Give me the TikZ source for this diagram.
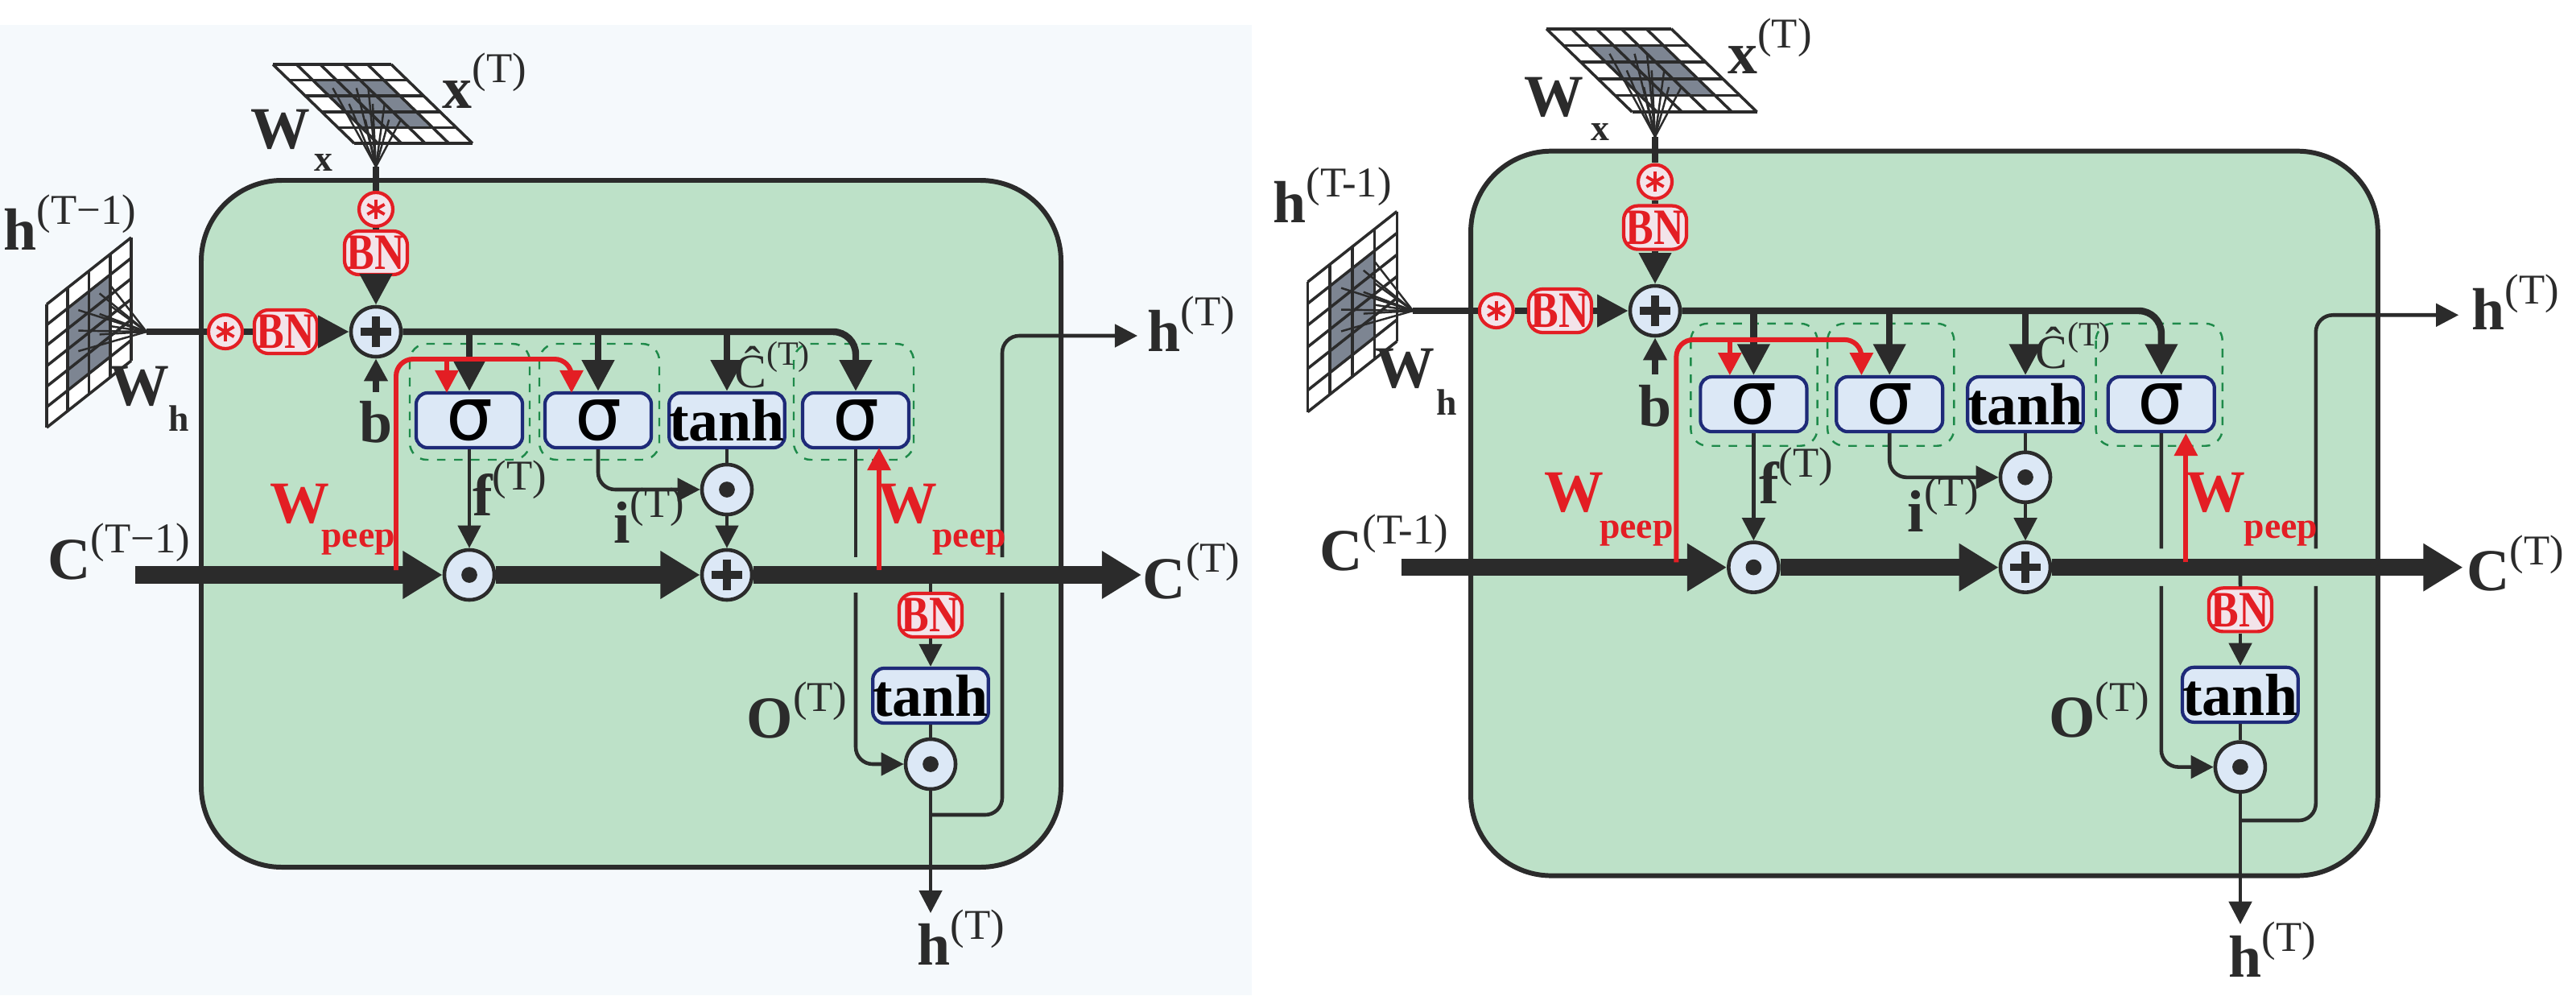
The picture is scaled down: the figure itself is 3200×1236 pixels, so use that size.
\documentclass[tikz,border=0pt]{standalone}
\usepackage{fontspec}
\setmainfont{Liberation Serif}
\newfontfamily\sigf{DejaVu Sans}
\usetikzlibrary{arrows.meta,calc}
\definecolor{cellg}{HTML}{BDE1C8}
\definecolor{dk}{HTML}{2B2B2B}
\definecolor{gatef}{HTML}{DCE8F6}
\definecolor{gateb}{HTML}{1E2A78}
\definecolor{redA}{HTML}{E31E24}
\definecolor{bnf}{HTML}{F3E4EA}
\definecolor{dgreen}{HTML}{1E8A4A}
\definecolor{gridg}{HTML}{7D8592}
\definecolor{panelbg}{HTML}{F5F9FC}
\newcommand\lb[2]{{\bfseries #1}\raisebox{0.95ex}{\fontsize{15}{15}\selectfont\mdseries #2}}
\newcommand\bigf{\fontsize{21}{22}\selectfont}
\newcommand\sg{{\sigf\mdseries\fontsize{26}{26}\selectfont σ}}
\newcommand\mgrid[9]{%
  \fill[white] (#1,#2) -- ++(#3,#4) -- ++(#5,#6) -- ++({-(#3)},{-(#4)}) -- cycle;
  \fill[gridg] ({#1+(#3)/#7+(#5)/#8},{#2+(#4)/#7+(#6)/#8}) -- ++({(#3)*(#7-2)/#7},{(#4)*(#7-2)/#7}) -- ++({(#5)*(#8-2)/#8},{(#6)*(#8-2)/#8}) -- ++({-(#3)*(#7-2)/#7},{-(#4)*(#7-2)/#7}) -- cycle;
  \foreach \i in {0,...,#7} \draw[dk,line width=1pt] ({#1+\i/#7*(#3)},{#2+\i/#7*(#4)}) -- ++(#5,#6);
  \foreach \j in {0,...,#8} \draw[dk,line width=1pt] ({#1+\j/#8*(#5)},{#2+\j/#8*(#6)}) -- ++(#3,#4);
  \foreach \i in {1.5,2.5,3} \foreach \j in {1.5,2.5,3.5}
    \draw[dk,line width=0.7pt] ({#1+\i/#7*(#3)+\j/#8*(#5)},{#2+\i/#7*(#4)+\j/#8*(#6)}) -- (#9);
}
\tikzset{
  gate/.style={draw=gateb, fill=gatef, line width=1.2pt, rounded corners=4pt, minimum width=1.32cm, minimum height=0.68cm, inner sep=0pt, font=\bigf\bfseries},
  bn/.style={draw=redA, fill=bnf, line width=1.2pt, rounded corners=5pt, text=redA, font=\fontsize{18}{18}\selectfont\bfseries, minimum width=0.78cm, minimum height=0.54cm, inner sep=0.5pt},
  opc/.style={circle, draw=dk, fill=gatef, line width=1.3pt, minimum size=0.62cm, inner sep=0pt},
  plussym/.style={opc, path picture={\draw[dk,line width=2.6pt] ([xshift=-5.5pt]path picture bounding box.center) -- ([xshift=5.5pt]path picture bounding box.center); \draw[dk,line width=2.6pt] ([yshift=-5.5pt]path picture bounding box.center) -- ([yshift=5.5pt]path picture bounding box.center);}},
  dotsym/.style={opc, path picture={\fill[dk] (path picture bounding box.center) circle (2.8pt);}},
  star/.style={circle, draw=redA, fill=bnf, line width=1.2pt, minimum size=0.42cm, inner sep=0pt, path picture={\foreach \a in {90,30,150} \draw[redA,line width=1.1pt] ([shift={(\a:3.5pt)}]path picture bounding box.center) -- ([shift={(\a+180:3.5pt)}]path picture bounding box.center);}},
  dsh/.style={draw=dgreen, dashed, line width=0.7pt, rounded corners=6pt},
  thin/.style={draw=dk, line width=1.3pt},
  tip/.style={-{Triangle[length=8pt,width=8pt]}},
  trunk/.style={draw=dk, line width=2.4pt},
  btip/.style={-{Triangle[length=11pt,width=11pt]}},
  cell/.style={draw=dk, line width=6pt, -{Triangle[length=14pt,width=16pt]}},
  rline/.style={draw=redA, line width=1.7pt},
  rtip/.style={-{Triangle[length=8pt,width=8pt]}},
  lab/.style={font=\bigf, text=dk, inner sep=0pt},
}
\newcommand\BN{\scalebox{0.82}[1]{BN}}
\newcommand\lstmcell[1]{%
  \draw[line width=1.7pt, draw=dk, fill=cellg, rounded corners=1cm] (-217,-188) rectangle (851,665);
  \draw[dsh] (42,15) rectangle (191,159);
  \draw[dsh] (203,15) rectangle (352,159);
  \draw[dsh] (519,15) rectangle (668,159);
  \coordinate (xconv) at (0,-205);
  \coordinate (hconv) at (-285,0);
  \mgrid{-128}{-332}{147}{0}{101}{98}{5}{5}{xconv}
  \mgrid{-409}{-34}{105}{-83}{0}{153}{4}{6}{hconv}
  \node[plussym] (plus) at (0,0) {};
  \node[bn] (bnx) at (0,-98) {\BN};
  \node[star] (stx) at (0,-152) {};
  \node[star] (sth) at (-187,0) {};
  \node[bn] (bnh) at (-112,0) {\BN};
  \node[gate] (g1) at (116,110) {\sg};
  \node[gate] (g2) at (276,110) {\sg};
  \node[gate] (g3) at (436,110) {tanh};
  \node[gate] (g4) at (596,110) {\sg};
  \node[dotsym] (df) at (116,302) {};
  \node[plussym] (pc) at (436,302) {};
  \node[dotsym] (di) at (436,196) {};
  \node[bn] (bn2) at (689,352) {\BN};
  \node[gate] (tc) at (689,452) {tanh};
  \node[dotsym] (do) at (689,537) {};
  \coordinate (cin) at (-299,302);
  \coordinate (cout) at (951,302);
  \coordinate (tr) at (596,0);
  \coordinate (hb) at (689,722);
  \coordinate (hr) at (946,5);
  \coordinate (bs) at (0,75);
  \draw[trunk] (xconv) -- (stx);
  \draw[trunk] (stx) -- (bnx);
  \draw[trunk,btip] (bnx) -- (plus);
  \draw[trunk] (hconv) -- (sth);
  \draw[trunk] (sth) -- (bnh);
  \draw[trunk,btip] (bnh) -- (plus);
  \draw[trunk,tip] (bs) -- (plus);
  \node[lab] at (0,112) {\bfseries b};
  \draw[trunk,btip,rounded corners=8pt] (plus) -- (tr) -- (g4.north);
  \draw[trunk,btip] (g1.north |- plus) -- (g1.north);
  \draw[trunk,btip] (g2.north |- plus) -- (g2.north);
  \draw[trunk,btip] (g3.north |- plus) -- (g3.north);
  \draw[thin,tip] (g1.south) -- (df.north);
  \draw[thin,tip,rounded corners=6pt] (g2.south) -- (g2.south |- di) -- (di.west);
  \draw[thin] (g3.south) -- (di.north);
  \draw[thin,tip] (di.south) -- (pc.north);
  \draw[thin] (g4.south) -- (596,280);
  \draw[thin,tip,rounded corners=6pt] (596,324) -- (596 ,537) -- (do.west);
  \draw[thin] (689,302) -- (bn2.north);
  \draw[thin,tip] (bn2.south) -- (tc.north);
  \draw[thin] (tc.south) -- (do.north);
  \draw[thin,tip] (do.south) -- (hb);
  \draw[thin,rounded corners=6pt] (689,600) -- (778,600) -- (778,324);
  \draw[thin,tip,rounded corners=6pt] (778,280) -- (778,5) -- (hr);
  \draw[cell] (cin) -- (df.west);
  \draw[cell] (df.east) -- (pc.west);
  \draw[cell] (pc.east) -- (cout);
  \draw[rline,rtip,rounded corners=6pt] (25,296) -- (25,34) -- (243,34) -- (243,76);
  \draw[rline,rtip] (88,34) -- (88,76);
  \draw[rline,rtip] (625,296) -- (625,144);
  \node[lab] at (135,-312) {\lb{x}{(T)}};
  \node[lab] at (-119,-251) {\bfseries W};
  \node[lab,font=\fontsize{13}{13}\selectfont\bfseries] at (-65,-210) {x};
  \node[lab] at (-380,-136) {\lb{h}{#1}};
  \node[lab] at (-294,68) {\bfseries W};
  \node[lab,font=\fontsize{13}{13}\selectfont\bfseries] at (-245,108) {h};
  \node[lab] at (166,194) {\lb{f}{(T)}};
  \node[lab] at (339,228) {\lb{i}{(T)}};
  \node[lab,font=\fontsize{17}{17}\selectfont] at (492,41) {Ĉ\raisebox{1.0ex}{\fontsize{12}{12}\selectfont (T)}};
  \node[lab] at (523,470) {\lb{O}{(T)}};
  \node[lab,text=redA] at (-95,214) {\bfseries W};
  \node[lab,text=redA,font=\fontsize{13}{13}\selectfont\bfseries] at (-22,262) {peep};
  \node[lab,text=redA] at (660,214) {\bfseries W};
  \node[lab,text=redA,font=\fontsize{13}{13}\selectfont\bfseries] at (737,262) {peep};
  \node[lab] at (-319,273) {\lb{C}{#1}};
  \node[lab] at (1013,297) {\lb{C}{(T)}};
  \node[lab] at (1013,-10) {\lb{h}{(T)}};
  \node[lab] at (727,752) {\lb{h}{(T)}};
}
\begin{document}
\begin{tikzpicture}[x=0.01cm,y=-0.01cm]
\useasboundingbox (0,0) rectangle (3200,1236);
\fill[white] (0,0) rectangle (3200,1236);
\fill[panelbg] (0,31) rectangle (1555,1236);
\begin{scope}[shift={(467,412)},name prefix=L-]
  \lstmcell{(T−1)}
\end{scope}
\begin{scope}[shift={(2056,386)},scale=1.055,name prefix=R-]
  \lstmcell{(T-1)}
\end{scope}
\end{tikzpicture}
\end{document}
